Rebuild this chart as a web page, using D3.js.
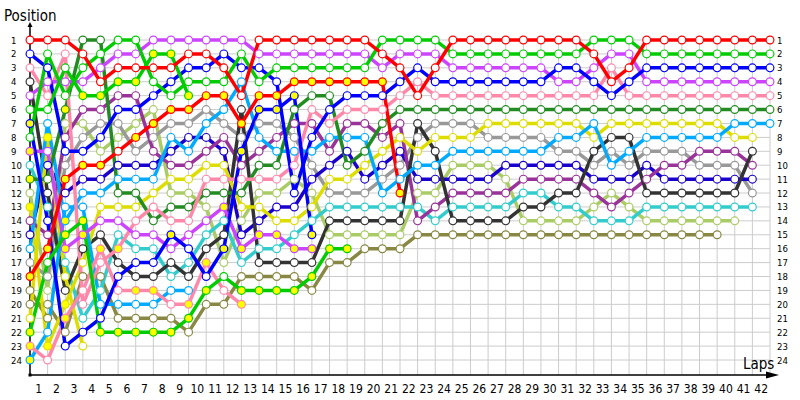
<!DOCTYPE html>
<html>
<head>
<meta charset="utf-8">
<script src="https://cdn.jsdelivr.net/npm/d3@7"></script>
<style>
  body { margin: 0; background: #fff; }
  text { font-family: "DejaVu Sans Condensed", "DejaVu Sans", sans-serif; fill: #000; }
</style>
</head>
<body>
<svg id="chart" width="800" height="400"></svg>
<script>
// tick labels
var lapLabels = [1,2,3,4,5,6,7,8,9,10,11,12,13,14,15,16,17,18,19,20,21,
                 22,23,24,25,26,27,28,29,30,31,32,33,34,35,36,37,38,39,40,41,42];
var posLabels = [1,2,3,4,5,6,7,8,9,10,11,12,13,14,15,16,17,18,19,20,21,22,23,24];

// position of each car at the start (index 0) and after every lap
var red1 = [1,1,1,2,4,3,3,3,3,2,2,3,5,1,1,1,1,1,1,1,2,3,5,3,1,1,1,1,1,1,1,1,2,4,3,1,1,1,1,1,1,1,1];
var red2 = [18,16,11,10,10,9,8,7,6,6,5,5,7,5,5,4,4,4,4,4,4,12];
var green1 = [8,2,5,3,2,1,1,4,5,4,4,4,2,4,3,3,3,3,3,3,1,1,1,1,2,2,2,2,2,2,2,2,1,1,1,2,2,2,2,2,2,2,2];
var green2 = [22,17,15,14,22,22,22,22,22,21,19,18,19,19,19,19,18,16,16];
var green3 = [6,6,3,5,5,4,4,2,2,5];
var blue1 = [2,3,9,9,8,6,6,5,4,3,3,2,3,3,4,12,8,6,5,5,5,4,3,4,4,4,4,4,4,4,3,3,4,5,4,3,3,3,3,3,3,3,3];
var blue2 = [7,14,23,22,21,18,17,17,15,16,18,16,9,6,6,5,15];
var magenta1 = [5,4,4,4,3,2,2,1,1,1,1,1,1,2,2,2,2,2,2,2,3,2,2,2,3,3,3,3,3,3,4,4,3,2,2,4,4,4,4,4,4,4,4];
var magenta2 = [9,9,16,15,14,14,15,15,16,15,14,13,16,15,15,16,16];
var pink1 = [3,5,2,20,17,16,14,13,14,14,11,11,11,11,11,10,6,7,6,6,6,5,4,5,5,5,5,5,5,5,5,5,5,3,5,5,5,5,5,5,5,5,5];
var pink2 = [23,24,21,19,16,19,19,19,20,20,17,19,20];
var dkgreen = [11,11,6,1,1,12,12,14,13,13,12,12,12,10,10,6,5,5,10,9,7,6,6,6,6,6,6,6,6,6,6,6,6,6,6,6,6,6,6,6,6,6,6];
var ltblue1 = [16,7,14,12,12,11,11,11,8,9,7,6,4,8,9,9,9,8,8,8,12,11,10,10,9,9,9,9,9,9,8,8,7,10,9,8,8,8,8,8,7,7,7];
var ltblue2 = [24,22,13,13,20,20,20,20,19,19];
var yellow1 = [13,23,20,17,13,13,13,12,11,11,10,10,13,13,14,14,13,11,11,10,9,8,9,8,8,8,7,7,7,7,7,7,8,7,7,7,7,7,7,7,8,8];
var yellow2 = [21,8,18,23];
var black = [4,12,19,16,15,17,18,18,17,18,16,15,6,17,17,17,17,14,14,14,14,14,7,9,14,14,14,14,13,13,12,12,9,8,8,12,12,12,12,12,12,9];
var purple = [14,15,8,6,6,5,5,9,10,10,9,8,10,9,8,7,7,9,7,7,8,7,14,13,12,12,12,12,11,11,11,11,12,13,12,11,10,10,9,9,9,10];
var dkblue = [15,10,12,11,11,10,10,10,9,8,8,9,15,14,13,13,11,10,9,11,10,9,11,11,11,11,11,10,10,10,10,10,11,11,11,10,11,11,11,11,11,11];
var gray = [17,18,10,8,7,7,9,8,7,7,6,7,8,7,7,8,10,12,12,12,11,10,8,7,7,7,8,8,8,8,9,9,10,9,10,9,9,9,10,10,10,12];
var cyan = [10,13,17,21,19,15,16,16,18,17,15,14,17,16,16,15,14,13,13,13,13,13,13,14,13,13,13,13,12,12,13,13,14,14,14,13,13,13,13,13,13,13];
var ltgreen = [12,19,7,7,9,8,7,6,12,12,13,17,14,12,12,11,12,15,15,15,15,15,12,12,10,10,10,11,14,14,14,14,13,12,13,14,14,14,14,14,14];
var olive = [20,20,22,18,18,21,21,21,21,22,20,20,18,18,18,18,19,17,17,16,16,16,15,15,15,15,15,15,15,15,15,15,15,15,15,15,15,15,15,15];
var olive2 = [19,21];

// laps drawn with a yellow marker
var red2Pits = [0,1,2,3,4,6,7,8,9,10,11,12,13,14,15,16,17,18,19,20,21];
var green2Pits = [0,2,3,4,5,6,7,8,9,10,12,13,14,15,16,17,18];
var green3Pits = [3,4,5,6,7,8,9];
var dkgreenPits = [0,2];
var blue2Pits = [0,8,11,12,13,14,15,16];
var magenta2Pits = [0,2,3,11,12,13,14,15,16];
var pink1Pits = [5];
var pink2Pits = [0,2,4,6,7,9,10,12];
var yellow1Pits = [0,1,2];
var yellow2Pits = [1];
var ltblue1Pits = [2];
var ltblue2Pits = [0];

var drivers = [
  { pos: olive2, color: "#888844", pits: [] },
  { pos: olive, color: "#888844", pits: [] },
  { pos: ltgreen, color: "#aacc66", pits: [] },
  { pos: cyan, color: "#33cccc", pits: [] },
  { pos: gray, color: "#999999", pits: [] },
  { pos: dkblue, color: "#1a00cc", pits: [] },
  { pos: purple, color: "#993399", pits: [] },
  { pos: black, color: "#333333", pits: [] },
  { pos: yellow2, color: "#dddd00", pits: yellow2Pits },
  { pos: yellow1, color: "#dddd00", pits: yellow1Pits },
  { pos: ltblue2, color: "#00aaff", pits: ltblue2Pits },
  { pos: ltblue1, color: "#00aaff", pits: ltblue1Pits },
  { pos: dkgreen, color: "#228b22", pits: dkgreenPits },
  { pos: pink2, color: "#ff88aa", pits: pink2Pits },
  { pos: pink1, color: "#ff88aa", pits: pink1Pits },
  { pos: magenta2, color: "#cc44ff", pits: magenta2Pits },
  { pos: magenta1, color: "#cc44ff", pits: [] },
  { pos: blue2, color: "#0000ff", pits: blue2Pits },
  { pos: blue1, color: "#0000ff", pits: [] },
  { pos: green3, color: "#00cc00", pits: green3Pits },
  { pos: green2, color: "#00cc00", pits: green2Pits },
  { pos: green1, color: "#00cc00", pits: [] },
  { pos: red2, color: "#ff0000", pits: red2Pits },
  { pos: red1, color: "#ff0000", pits: [] }
];

var svg = d3.select('#chart');

var x = d3.scaleLinear().domain([0, 42]).range([30, 770]);
var y = d3.scaleLinear().domain([1, 24]).range([40, 360]);

// grid
var grid = svg.append('g').attr('stroke', '#cccccc').attr('stroke-width', 1);
grid.selectAll('line.v')
  .data(lapLabels)
  .enter().append('line')
  .attr('x1', function(d) { return x(d); })
  .attr('x2', function(d) { return x(d); })
  .attr('y1', 36)
  .attr('y2', 375);
grid.selectAll('line.h')
  .data(posLabels)
  .enter().append('line')
  .attr('x1', x(0))
  .attr('x2', x(42))
  .attr('y1', function(d) { return y(d); })
  .attr('y2', function(d) { return y(d); });

// axes
svg.append('line')
  .attr('x1', 30).attr('x2', 30).attr('y1', 25).attr('y2', 375)
  .attr('stroke', '#000').attr('stroke-width', 1.5);
svg.append('line')
  .attr('x1', 30).attr('x2', 772).attr('y1', 375).attr('y2', 375)
  .attr('stroke', '#000').attr('stroke-width', 1.5);
svg.append('path').attr('d', 'M30 22 L27.5 27 L32.5 27 Z').attr('fill', '#000');
svg.append('path').attr('d', 'M779 375 L766 371.5 L766 378.5 Z').attr('fill', '#000');
svg.append('rect').attr('x', 28.5).attr('y', 373.5).attr('width', 3).attr('height', 3).attr('fill', '#000');

// axis labels
svg.append('g').selectAll('text')
  .data(posLabels)
  .enter().append('text')
  .attr('x', 11)
  .attr('y', function(d) { return y(d) + 3.5; })
  .attr('font-size', 9.5)
  .text(function(d) { return d; });

svg.append('g').selectAll('text')
  .data(posLabels)
  .enter().append('text')
  .attr('x', 777)
  .attr('y', function(d) { return y(d) + 3.5; })
  .attr('font-size', 9.5)
  .text(function(d) { return d; });

svg.append('g').selectAll('text')
  .data(lapLabels)
  .enter().append('text')
  .attr('x', function(d) { return x(d - 0.5); })
  .attr('y', 393)
  .attr('text-anchor', 'middle')
  .attr('font-size', 12)
  .text(function(d) { return d; });

svg.append('text').attr('x', 4).attr('y', 21).attr('font-size', 15).text('Position');
svg.append('text').attr('x', 743).attr('y', 369).attr('font-size', 15).text('Laps');

// race lines
var line = d3.line()
  .x(function(d, i) { return x(i); })
  .y(function(d) { return y(d); });

svg.append('g').selectAll('path')
  .data(drivers)
  .enter().append('path')
  .attr('d', function(d) { return line(d.pos); })
  .attr('fill', 'none')
  .attr('stroke', function(d) { return d.color; })
  .attr('stroke-width', 3.5)
  .attr('stroke-linejoin', 'round');

// markers
var marks = svg.append('g').selectAll('g')
  .data(drivers)
  .enter().append('g');

marks.selectAll('circle')
  .data(function(d) {
    return d.pos.map(function(p, i) {
      return { lap: i, pos: p, color: d.color, pit: d.pits.indexOf(i) >= 0 };
    });
  })
  .enter().append('circle')
  .attr('cx', function(d) { return x(d.lap); })
  .attr('cy', function(d) { return y(d.pos); })
  .attr('r', 3.9)
  .attr('fill', function(d) { return d.pit ? '#ffff00' : '#ffffff'; })
  .attr('stroke', function(d) { return d.color; })
  .attr('stroke-width', 1.2);
</script>
</body>
</html>
